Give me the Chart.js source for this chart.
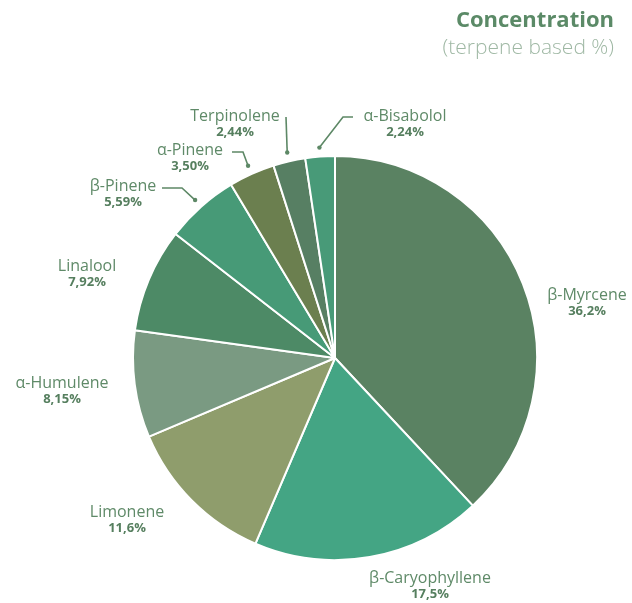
<!DOCTYPE html>
<html>
<head>
<meta charset="utf-8">
<style>
  html, body { margin: 0; padding: 0; background: #fff; }
  #wrap { width: 632px; height: 603px; }
</style>
</head>
<body>
<div id="wrap">
    <canvas id="myChart" width="632" height="603"></canvas>
</div>

<script src="https://cdn.jsdelivr.net/npm/chart.js@4.4.1/dist/chart.umd.min.js"></script>

<script>
    // data
    var terpenes = ['β-Myrcene', 'β-Caryophyllene', 'Limonene', 'α-Humulene', 'Linalool', 'β-Pinene', 'α-Pinene', 'Terpinolene', 'α-Bisabolol'];
    var shares = [36.2, 17.5, 11.6, 8.15, 7.92, 5.59, 3.50, 2.44, 2.24];
    var shareLabels = ['36,2%', '17,5%', '11,6%', '8,15%', '7,92%', '5,59%', '3,50%', '2,44%', '2,24%'];
    var sliceColors = ['#5a8262', '#44a584', '#8f9d6c', '#7a9a82', '#4d8a66', '#479a77', '#6b7f4f', '#577f63', '#489a78'];

    // label placement, px offsets from pie centre (text centre, then leader end / elbow)
    var labelLayout = [
        { tx: 252, ty: -63 },
        { tx: 95, ty: 220 },
        { tx: -208, ty: 154 },
        { tx: -273, ty: 25 },
        { tx: -248, ty: -92 },
        { tx: -212, ty: -172, lead: [[-153, -170], [-173, -170]] },
        { tx: -145, ty: -208, lead: [[-92, -206], [-103, -206]] },
        { tx: -100, ty: -242, lead: [[-49, -241]] },
        { tx: 70, ty: -242, lead: [[8, -241], [18, -241]] }
    ];

    var labelPlugin = {
        id: 'labelPlugin',
        afterDraw: function (chart) {
            var c = chart.ctx;
            var arcs = chart.getDatasetMeta(0).data;
            c.save();
            arcs.forEach(function (arc, i) {
                var lay = labelLayout[i];
                var cx = arc.x, cy = arc.y;
                var mid = (arc.startAngle + arc.endAngle) / 2;
                if (lay.lead) {
                    var r = arc.outerRadius + 9;
                    var dx = cx + Math.cos(mid) * r;
                    var dy = cy + Math.sin(mid) * r;
                    c.strokeStyle = '#5d8866';
                    c.lineWidth = 1.6;
                    c.beginPath();
                    c.moveTo(dx, dy);
                    lay.lead.forEach(function (p) { c.lineTo(cx + p[0], cy + p[1]); });
                    c.stroke();
                    c.fillStyle = '#5d8866';
                    c.beginPath();
                    c.arc(dx, dy, 2.2, 0, Math.PI * 2);
                    c.fill();
                }
                c.textAlign = 'center';
                c.textBaseline = 'middle';
                c.fillStyle = '#5f8a68';
                c.font = '16px "Open Sans"';
                c.fillText(terpenes[i], cx + lay.tx, cy + lay.ty);
                c.fillStyle = '#567f5f';
                c.font = 'bold 13px "Open Sans"';
                c.fillText(shareLabels[i], cx + lay.tx, cy + lay.ty + 16);
            });

            // heading
            c.textAlign = 'right';
            c.textBaseline = 'middle';
            c.fillStyle = '#5b8a67';
            c.font = 'bold 22px "Open Sans"';
            c.fillText('Concentration', 614, 21);
            c.fillStyle = '#9fb8a4';
            c.font = '300 21px "Open Sans"';
            c.fillText('(terpene based %)', 614, 48);
            c.restore();
        }
    };

    const ctx = document.getElementById('myChart');

    new Chart(ctx, {
        type: 'pie',
        data: {
            labels: terpenes,
            datasets: [{
                data: shares,
                backgroundColor: sliceColors,
                borderColor: '#ffffff',
                borderWidth: 2
            }]
        },
        options: {
            responsive: false,
            animation: false,
            layout: {
                padding: { left: 132, right: 94, top: 155, bottom: 42 }
            },
            plugins: {
                legend: { display: false },
                tooltip: { enabled: false }
            }
        },
        plugins: [labelPlugin]
    });
</script>
</body>
</html>
